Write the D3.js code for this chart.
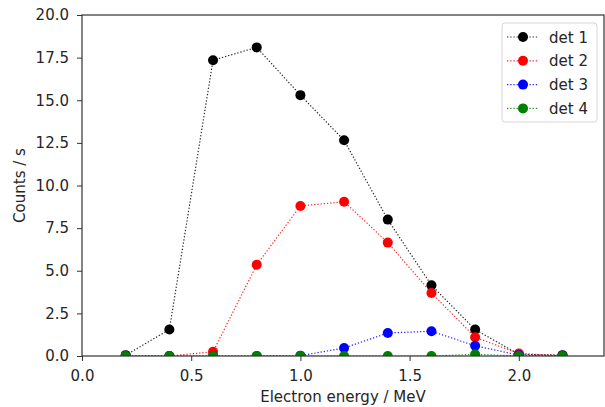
<!DOCTYPE html>
<html>
<head>
<meta charset="utf-8">
<script src="https://cdn.jsdelivr.net/npm/d3@7"></script>
<style>
  body { margin: 0; background: #fff; }
  svg { font-family: "DejaVu Sans", sans-serif; }
</style>
</head>
<body>
<svg id="chart" width="605" height="407"></svg>
<script>
// energies in MeV
const energy = [0.2, 0.4, 0.6, 0.8, 1.0, 1.2, 1.4, 1.6, 1.8, 2.0, 2.2];

const det1 = [0.05, 1.55, 17.35, 18.1, 15.3, 12.65, 8.0, 4.15, 1.55, 0.1, 0.05];
const det2 = [0.0, 0.0, 0.25, 5.35, 8.8, 9.05, 6.65, 3.7, 1.1, 0.15, 0.02];
const det3 = [0.0, 0.0, 0.0, 0.0, 0.02, 0.47, 1.35, 1.45, 0.6, 0.05, 0.02];
const det4 = [0.0, 0.0, 0.0, 0.0, 0.0, 0.0, 0.0, 0.0, 0.1, 0.0, 0.0];

const seriesNames = ['det 1', 'det 2', 'det 3', 'det 4'];
const seriesColors = ['#000000', '#ff0000', '#0000ff', '#008000'];

const xTicks = [0.0, 0.5, 1.0, 1.5, 2.0];
const yTicks = [0.0, 2.5, 5.0, 7.5, 10.0, 12.5, 15.0, 17.5, 20.0];

const margin = {left: 82, right: 1, top: 15, bottom: 51};
const W = 605, H = 407;
const fontSize = '15px';

const svg = d3.select('#chart');

let xScale = d3.scaleLinear()
  .domain([0, 2.39])
  .range([margin.left, W - margin.right]);

let yScale = d3.scaleLinear()
  .domain([0, 20])
  .range([H - margin.bottom, margin.top]);

svg.append('clipPath').attr('id', 'plot-clip')
  .append('rect')
  .attr('x', margin.left).attr('y', margin.top)
  .attr('width', W - margin.right - margin.left)
  .attr('height', H - margin.bottom - margin.top);

const series = [det1, det2, det3, det4].map((vals, i) => ({
  name: seriesNames[i],
  color: seriesColors[i],
  points: vals.map((v, j) => ({x: energy[j], y: v}))
}));

let line = d3.line()
  .x(d => xScale(d.x))
  .y(d => yScale(d.y));

const plot = svg.append('g').attr('clip-path', 'url(#plot-clip)');

series.forEach(s => {
  const g = plot.append('g');
  g.append('path')
    .datum(s.points)
    .attr('d', line)
    .attr('fill', 'none')
    .attr('stroke', s.color)
    .attr('stroke-width', 1.2)
    .attr('stroke-dasharray', '1.3,1.9')
    .attr('opacity', 0.85);
  g.selectAll('circle')
    .data(s.points)
    .enter().append('circle')
    .attr('cx', d => xScale(d.x))
    .attr('cy', d => yScale(d.y))
    .attr('r', 5)
    .attr('fill', s.color);
});

// axes
const xAxis = svg.append('g')
  .attr('transform', 'translate(0,' + (H - margin.bottom) + ')')
  .call(d3.axisBottom(xScale).tickValues(xTicks).tickFormat(d3.format('.1f')).tickSizeOuter(0).tickSize(5).tickPadding(9));

const yAxis = svg.append('g')
  .attr('transform', 'translate(' + margin.left + ',0)')
  .call(d3.axisLeft(yScale).tickValues(yTicks).tickFormat(d3.format('.1f')).tickSizeOuter(0).tickSize(5).tickPadding(8));

[xAxis, yAxis].forEach(a => {
  a.selectAll('.domain').remove();
  a.selectAll('.tick line').attr('stroke', '#333').attr('stroke-width', 1);
  a.selectAll('.tick text').attr('fill', '#262626').style('font-size', fontSize).style('font-family', '"DejaVu Sans", sans-serif');
});

// frame
svg.append('rect')
  .attr('x', margin.left).attr('y', margin.top)
  .attr('width', W - margin.right - margin.left)
  .attr('height', H - margin.bottom - margin.top)
  .attr('fill', 'none')
  .attr('stroke', '#333')
  .attr('stroke-width', 1.2);

svg.append('text')
  .attr('x', (margin.left + W - margin.right) / 2)
  .attr('y', 402)
  .attr('text-anchor', 'middle')
  .attr('fill', '#262626')
  .style('font-size', fontSize)
  .text('Electron energy / MeV');

svg.append('text')
  .attr('transform', 'translate(25,' + ((margin.top + H - margin.bottom) / 2) + ') rotate(-90)')
  .attr('text-anchor', 'middle')
  .attr('fill', '#262626')
  .style('font-size', fontSize)
  .text('Counts / s');

// legend
const legend = svg.append('g');
legend.append('rect')
  .attr('x', 502).attr('y', 23)
  .attr('width', 95).attr('height', 99)
  .attr('rx', 3)
  .attr('fill', 'rgba(255,255,255,0.8)')
  .attr('stroke', '#d6d6d6')
  .attr('stroke-width', 1);

series.forEach((s, i) => {
  const yy = 37 + i * 23.8;
  legend.append('line')
    .attr('x1', 507).attr('x2', 539)
    .attr('y1', yy).attr('y2', yy)
    .attr('stroke', s.color)
    .attr('stroke-width', 1.2)
    .attr('stroke-dasharray', '1.3,1.9')
    .attr('opacity', 0.85);
  legend.append('circle')
    .attr('cx', 523).attr('cy', yy).attr('r', 5)
    .attr('fill', s.color);
  legend.append('text')
    .attr('x', 549).attr('y', yy + 5.5)
    .attr('fill', '#262626')
    .style('font-size', fontSize)
    .text(s.name);
});
</script>
</body>
</html>
